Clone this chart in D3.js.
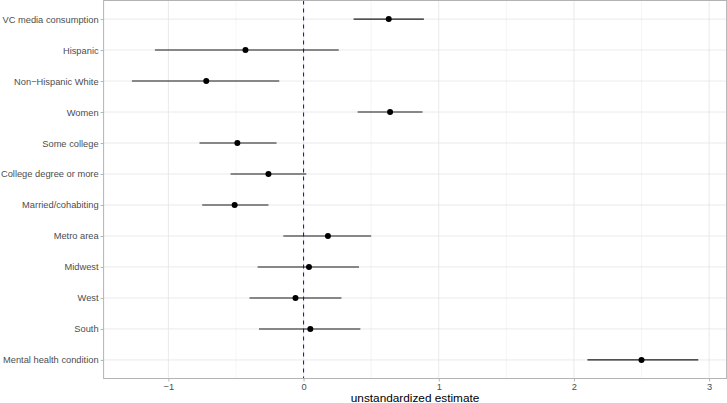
<!DOCTYPE html>
<html>
<head>
<meta charset="utf-8">
<script src="https://d3js.org/d3.v7.min.js"></script>
<style>
  body { margin: 0; background: #fff; }
  text { font-family: "Liberation Sans", Arial, sans-serif; }
</style>
</head>
<body>
<svg width="727" height="403"></svg>
<script>
// terms, top to bottom
var terms = ["VC media consumption", "Hispanic", "Non\u2212Hispanic White", "Women",
  "Some college", "College degree or more", "Married/cohabiting", "Metro area",
  "Midwest", "West", "South", "Mental health condition"];
var estimate = [0.63, -0.43, -0.72, 0.64, -0.49, -0.26, -0.51, 0.18, 0.04, -0.06, 0.05, 2.50];
var lower    = [0.37, -1.10, -1.27, 0.40, -0.77, -0.54, -0.75, -0.15, -0.34, -0.40, -0.33, 2.10];
var upper    = [0.89, 0.26, -0.18, 0.88, -0.20, 0.02, -0.26, 0.50, 0.41, 0.28, 0.42, 2.92];
var xTicks = [-1, 0, 1, 2, 3];
var xMinor = [-0.5, 0.5, 1.5, 2.5];

var svg = d3.select("svg");
var pLeft = 103.6, pRight = 726.6, pTop = 0.5, pBottom = 378.5;

// ggplot style 5% expansion
var lo = d3.min(lower), hi = d3.max(upper), pad = (hi - lo) * 0.05;
var x = d3.scaleLinear().domain([lo - pad, hi + pad]).range([pLeft, pRight]);
var y = d3.scalePoint().domain(terms).range([pTop, pBottom]).padding(0.6);

// grid
var grid = svg.append("g");
grid.selectAll(".minor").data(xMinor).enter().append("line")
  .attr("x1", function(d) { return x(d); }).attr("x2", function(d) { return x(d); })
  .attr("y1", pTop).attr("y2", pBottom)
  .attr("stroke", "#efefef").attr("stroke-width", 0.6);
grid.selectAll(".major").data(xTicks).enter().append("line")
  .attr("x1", function(d) { return x(d); }).attr("x2", function(d) { return x(d); })
  .attr("y1", pTop).attr("y2", pBottom)
  .attr("stroke", "#e4e4e4").attr("stroke-width", 0.8);
grid.selectAll(".hline").data(terms).enter().append("line")
  .attr("x1", pLeft).attr("x2", pRight)
  .attr("y1", function(d) { return y(d); }).attr("y2", function(d) { return y(d); })
  .attr("stroke", "#e4e4e4").attr("stroke-width", 0.8);

// zero reference line
svg.append("line")
  .attr("x1", x(0)).attr("x2", x(0)).attr("y1", pTop).attr("y2", pBottom)
  .attr("stroke", "#0000ff").attr("stroke-width", 1)
  .attr("stroke-dasharray", "4,4");

// intervals and points
var rows = terms.map(function(t, i) {
  return { term: t, est: estimate[i], lo: lower[i], hi: upper[i] };
});
svg.append("g").selectAll("line").data(rows).enter().append("line")
  .attr("x1", function(d) { return x(d.lo); })
  .attr("x2", function(d) { return x(d.hi); })
  .attr("y1", function(d) { return y(d.term); })
  .attr("y2", function(d) { return y(d.term); })
  .attr("stroke", "#1a1a1a").attr("stroke-width", 1.1);
svg.append("g").selectAll("circle").data(rows).enter().append("circle")
  .attr("cx", function(d) { return x(d.est); })
  .attr("cy", function(d) { return y(d.term); })
  .attr("r", 3).attr("fill", "#000");

// panel border
svg.append("rect")
  .attr("x", pLeft).attr("y", pTop)
  .attr("width", pRight - pLeft).attr("height", pBottom - pTop)
  .attr("fill", "none").attr("stroke", "#b3b3b3").attr("stroke-width", 1);

// axes
var xAxis = svg.append("g")
  .attr("transform", "translate(0," + pBottom + ")")
  .call(d3.axisBottom(x).tickValues(xTicks).tickSize(3).tickPadding(1.5)
    .tickFormat(function(d) { return d < 0 ? "\u2212" + Math.abs(d) : d; }));
var yAxis = svg.append("g")
  .attr("transform", "translate(" + pLeft + ",0)")
  .call(d3.axisLeft(y).tickSize(3).tickPadding(2));

[xAxis, yAxis].forEach(function(a) {
  a.select(".domain").remove();
  a.selectAll(".tick line").attr("stroke", "#b3b3b3");
  a.selectAll(".tick text")
    .attr("fill", "#4d4d4d")
    .style("font-size", "9.3px")
    .style("font-family", "'Liberation Sans', Arial, sans-serif");
});

svg.append("text")
  .attr("x", (pLeft + pRight) / 2).attr("y", 401.5)
  .attr("text-anchor", "middle")
  .style("font-size", "11.8px")
  .attr("fill", "#000")
  .text("unstandardized estimate");
</script>
</body>
</html>
